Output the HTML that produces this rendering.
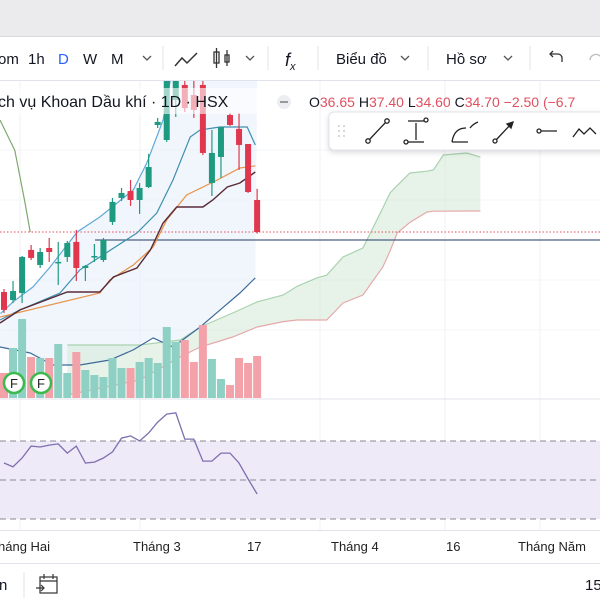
<!DOCTYPE html>
<html><head><meta charset="utf-8">
<style>
html,body{margin:0;padding:0;background:#fff;width:600px;height:600px;overflow:hidden;font-family:"Liberation Sans","Noto Sans CJK SC",sans-serif;}
svg text{font-family:"Liberation Sans","Noto Sans CJK SC",sans-serif;}
</style></head>
<body>
<svg id="chart" width="600" height="600" viewBox="0 0 600 600" xmlns="http://www.w3.org/2000/svg">
  <rect x="0" y="0" width="600" height="600" fill="#ffffff"/>
  <rect x="0" y="0" width="600" height="36" fill="#ebebed"/>
  <line x1="0" y1="36.5" x2="600" y2="36.5" stroke="#d8d8dc"/>
  <g id="grid"></g>
  <g id="main"></g>
  <g id="vol"></g>
  <g id="rsi"></g>

  <!-- toolbar -->
  <g font-size="15" fill="#131722">
    <rect x="0" y="37" width="600" height="43" fill="#fff"/>
    <text x="-2" y="64">om</text>
    <text x="28" y="64">1h</text>
    <text x="58" y="64" fill="#2962ff">D</text>
    <text x="83" y="64">W</text>
    <text x="111" y="64">M</text>
    <path d="M143 56 l4 4 l4 -4" fill="none" stroke="#555" stroke-width="1.3"/>
    <line x1="163" y1="46" x2="163" y2="70" stroke="#e0e3eb"/>
    <path d="M175 66 l7 -8 l5 5 l10 -10" fill="none" stroke="#333" stroke-width="1.5"/>
    <g fill="none" stroke="#333" stroke-width="1.3">
      <rect x="214" y="52" width="5" height="11"/><line x1="216.5" y1="48" x2="216.5" y2="68"/>
      <rect x="225" y="55" width="4" height="7"/><line x1="227" y1="50" x2="227" y2="66"/>
    </g>
    <path d="M246 56 l4 4 l4 -4" fill="none" stroke="#555" stroke-width="1.3"/>
    <line x1="268" y1="46" x2="268" y2="70" stroke="#e0e3eb"/>
    <text x="285" y="66" font-style="italic" font-size="18">f<tspan font-size="11" dy="4">x</tspan></text>
    <line x1="318" y1="46" x2="318" y2="70" stroke="#e0e3eb"/>
    <text x="336" y="64">Biểu đồ</text>
    <path d="M401 56 l4 4 l4 -4" fill="none" stroke="#555" stroke-width="1.3"/>
    <line x1="428" y1="46" x2="428" y2="70" stroke="#e0e3eb"/>
    <text x="446" y="64">Hồ sơ</text>
    <path d="M504 56 l4 4 l4 -4" fill="none" stroke="#555" stroke-width="1.3"/>
    <line x1="530" y1="46" x2="530" y2="70" stroke="#e0e3eb"/>
    <path d="M562 62 v-4 a4 4 0 0 0 -4 -4 h-8 m3 -3 l-3 3 l3 3" fill="none" stroke="#333" stroke-width="1.3"/>
    <path d="M590 60 a6 6 0 0 1 10 -4" fill="none" stroke="#bbb" stroke-width="1.3"/>
    <line x1="0" y1="80.5" x2="600" y2="80.5" stroke="#e0e3eb"/>
  </g>

  <!-- legend -->
  <g>
    <rect x="0" y="88" width="262" height="26" fill="#fff" opacity="0.6"/>
    <text x="-2" y="107" font-size="16" fill="#131722">ch vụ Khoan Dầu khí · 1D · HSX</text>
    <circle cx="284" cy="102" r="7" fill="#eceef2"/><rect x="280" y="101" width="8" height="2" fill="#999"/>
    <text x="309" y="107" font-size="14" fill="#131722">O<tspan fill="#e0505f">36.65</tspan> H<tspan fill="#e0505f">37.40</tspan> L<tspan fill="#e0505f">34.60</tspan> C<tspan fill="#e0505f">34.70</tspan> <tspan fill="#e0505f">−2.50 (−6.7</tspan></text>
  </g>

  <!-- drawing toolbar -->
  <g>
    <rect x="329" y="112" width="290" height="38" rx="5" fill="#fff" stroke="#e0e3eb" style="filter:drop-shadow(0 2px 3px rgba(0,0,0,0.15))"/>
    <g fill="#ccc"><circle cx="339" cy="126" r="1"/><circle cx="344" cy="126" r="1"/><circle cx="339" cy="131" r="1"/><circle cx="344" cy="131" r="1"/><circle cx="339" cy="136" r="1"/><circle cx="344" cy="136" r="1"/></g>
    <g fill="none" stroke="#222" stroke-width="1.3">
      <g><line x1="369" y1="140" x2="386" y2="122"/><circle cx="368" cy="141" r="2.2" fill="#fff"/><circle cx="387" cy="121" r="2.2" fill="#fff"/></g>
      <g><line x1="408" y1="121" x2="424" y2="121"/><line x1="408" y1="142" x2="424" y2="142"/><line x1="416" y1="123" x2="416" y2="140"/><circle cx="426" cy="120" r="2" fill="#fff"/><circle cx="406" cy="142" r="2" fill="#fff"/></g>
      <path d="M452 142 q2 -14 14 -14 M452 142 h16 M470 128 q3 -4 8 -6"/>
      <g><line x1="496" y1="140" x2="512" y2="123"/><circle cx="495" cy="141" r="2" fill="#fff"/><path d="M507 124 l6 -2 l-2 6 z" fill="#222"/></g>
      <g><line x1="540" y1="131" x2="557" y2="131"/><circle cx="539" cy="131" r="2" fill="#fff"/></g>
      <path d="M573 137 l6 -8 l5 5 l6 -6 l6 6"/>
    </g>
  </g>

  <!-- time axis -->
  <g font-size="13" fill="#222">
    <line x1="0" y1="530.5" x2="600" y2="530.5" stroke="#e0e3eb"/>
    <text x="-2" y="551">háng Hai</text>
    <text x="133" y="551">Tháng 3</text>
    <text x="247" y="551">17</text>
    <text x="331" y="551">Tháng 4</text>
    <text x="446" y="551">16</text>
    <text x="518" y="551">Tháng Năm</text>
    <line x1="0" y1="563.5" x2="600" y2="563.5" stroke="#e0e3eb"/>
  </g>
  <g>
    <text x="-1" y="590" font-size="15" fill="#131722">n</text>
    <line x1="24" y1="572" x2="24" y2="598" stroke="#e0e3eb"/>
    <g fill="none" stroke="#333" stroke-width="1.2">
      <rect x="40" y="577" width="17" height="16"/><line x1="40" y1="581" x2="57" y2="581"/><line x1="44" y1="574" x2="44" y2="579"/><line x1="53" y1="574" x2="53" y2="579"/><path d="M36 588 h8 m-3 -3 l3 3 l-3 3"/>
    </g>
    <text x="585" y="590" font-size="15" fill="#131722">15</text>
  </g>
</svg>
<script>
// ---- data ----
const opens  = [30.95,30.45,30.89,33.58,32.64,33.70,32.76,33.14,34.08,32.45,33.14,32.95,35.33,36.83,37.26,36.70,37.51,41.39,40.45,42.95,43.89,43.26,43.89,37.76,39.39,42.01,41.14,40.20,36.70];
const highs  = [31.14,31.64,33.20,33.89,33.70,34.33,34.08,34.14,34.83,32.64,33.95,34.33,36.83,37.45,37.95,37.76,39.58,41.83,44.83,45.45,44.33,44.33,44.20,41.08,41.26,42.14,42.14,40.20,37.40];
const lows   = [29.64,30.26,30.26,32.95,32.45,32.83,31.39,32.83,31.64,31.64,32.83,32.83,35.14,36.64,36.33,35.83,37.45,41.20,40.33,41.89,42.20,41.83,39.51,36.95,38.08,41.33,38.58,37.14,34.60];
const closes = [29.83,31.01,33.14,33.08,33.45,33.45,32.83,34.01,32.45,32.58,33.20,34.20,36.58,37.14,36.70,37.45,38.76,41.58,44.33,44.83,42.45,42.33,39.64,39.64,41.26,41.39,40.14,37.20,34.70];
const volumes = [25,50,79,41,40,40,54,25,46,28,23,21,40,30,30,36,40,35,71,56,58,36,73,39,19,13,40,35,42];
const rsiValues = [58.7,56.7,61.3,67.4,66.9,67.9,68.5,63.8,67.4,58.7,59.2,61.3,64.4,71.5,72.6,70.0,74.1,79.7,83.8,84.4,71.0,71.0,59.7,59.7,63.8,63.8,58.7,50.5,42.8];
const rsiLevels = [70,50,30];
const lastClose = 34.70;
const refPrice = 34.20;
// indicator lines: index positions + prices
const upperIdx = [-0.4,1.0,3.2,5.1,8.1,10.6,14.3,15.8,17.6,18.4,19.5];
const upperVal = [29.6,30.33,31.26,32.51,34.70,35.64,37.33,39.01,41.70,44.20,46.70];
const midIdx = [-0.44,1.77,6.2,8.4,10.6,14.7,16.9,18.7,20.6,21.7,23.9,26.9,27.8];
const midVal = [29.20,29.83,30.89,32.33,33.14,34.64,35.89,37.95,40.64,41.08,41.26,41.26,40.14];
const orangeIdx = [-0.44,10.6,11.7,14.3,16.5,18.0,20.2,23.6,26.1,27.8];
const orangeVal = [29.39,30.89,31.70,32.64,33.76,35.45,37.01,37.95,38.70,38.83];
const maroonIdx = [-0.44,1.77,7.0,10.6,12.1,14.7,16.2,17.6,19.1,22.0,23.1,24.7,26.1,27.8];
const maroonVal = [29.01,29.83,30.95,30.95,31.89,32.45,33.58,35.26,36.26,36.26,36.70,37.51,37.76,38.45];
const lowerIdx = [-0.44,2.9,5.4,8.4,11.7,14.3,16.5,18.7,21.7,23.9,26.1,27.8];
const lowerVal = [27.51,27.14,26.39,26.39,26.70,27.33,28.08,27.51,28.76,29.83,30.89,31.83];
const lagIdx = [-0.44,1.2,2.3,2.9];
const lagVal = [41.70,39.80,36.60,34.70];
const cloudIdx = [7,15,19.5,21.7,25.3,28,30.9,32.4,34.6,35.7,37.5,39.7,41.9,42.7,43.5,44.9,46.8,47.5,48.6,51.2,52.7];
const spanA = [27.64,27.64,27.95,28.76,29.64,30.33,30.76,31.30,31.83,32.00,33.14,33.70,36.20,37.14,37.60,38.39,38.50,38.58,39.51,39.64,39.39];
const spanB = [24.51,25.45,26.90,27.51,28.14,28.76,29.10,29.20,29.20,29.20,30.26,30.76,32.51,33.50,34.64,35.30,35.95,36.00,36.00,36.01,36.01];

// ---- scales ----
const X = i => 4 + i * 9.04;
const Y = p => 232 - (p - 34.7) * 16;
const VY = v => 398 - v;
const RY = v => 480 - (v - 50) * 1.95;
const NS = 'http://www.w3.org/2000/svg';
function mk(tag, attrs, parent){ const e=document.createElementNS(NS,tag); for(const k in attrs) e.setAttribute(k,attrs[k]); parent.appendChild(e); return e; }
const pts = (idx, val, f) => idx.map((v,k)=>X(v).toFixed(1)+','+f(val[k]).toFixed(1)).join(' ');

const grid = document.getElementById('grid');
[20,140,320,445,540].forEach(x=>{ const l=mk('line',{x1:x,y1:81,x2:x,y2:530,stroke:'#f0f2f5'},grid);   });
[150,200,280,330].forEach(y=>{ const l=mk('line',{x1:0,y1:y,x2:600,y2:y,stroke:'#f3f4f7'},grid);   });

const main = document.getElementById('main');
const defs = mk('defs',{},main);
const cp = mk('clipPath',{id:'mc'},defs); mk('rect',{x:0,y:81,width:600,height:317},cp);
const g = mk('g',{'clip-path':'url(#mc)'},main);

// bollinger fill
const bandFill = mk('polygon',{points: pts(upperIdx,upperVal,Y)+' '+X(19.5)+',81 '+X(28)+',81 '+pts(lowerIdx.slice().reverse(),lowerVal.slice().reverse(),Y), fill:'#e3eef9', opacity:'0.55'},g);



// cloud
const cloud = mk('polygon',{points: pts(cloudIdx,spanA,Y)+' '+pts(cloudIdx.slice().reverse(),spanB.slice().reverse(),Y), fill:'#cfe8d2', opacity:'0.5'},g);


const sa = mk('polyline',{points:pts(cloudIdx,spanA,Y),fill:'none',stroke:'#a9d3b0','stroke-width':1.2},g);


const sb = mk('polyline',{points:pts(cloudIdx,spanB,Y),fill:'none',stroke:'#e6a9a9','stroke-width':1.2},g);



// price lines
const dl = mk('line',{x1:0,y1:Y(lastClose),x2:600,y2:Y(lastClose),stroke:'#e0505f','stroke-dasharray':'1.5 2','stroke-width':1},g);


const hl = mk('line',{x1:95,y1:Y(refPrice),x2:600,y2:Y(refPrice),stroke:'#4a5f80','stroke-width':1.3},g);



function line(idx,val,color,name,w){ const p=mk('polyline',{points:pts(idx,val,Y),fill:'none',stroke:color,'stroke-width':w||1.2},g);   }
line(lagIdx,lagVal,'#7fa86f','lagging-span');
line(upperIdx,upperVal,'#62a8d8','bollinger-upper');
line(midIdx,midVal,'#3f8fb0','bollinger-middle');
line(lowerIdx,lowerVal,'#3e6a9a','bollinger-lower');
line(orangeIdx,orangeVal,'#e8944a','moving-average-orange');
line(maroonIdx,maroonVal,'#5a2a36','moving-average-dark',1.4);

// candles
for(let i=0;i<opens.length;i++){
  const up = closes[i] >= opens[i];
  const c = up ? '#1e9a80' : '#e0374f';
  const cg = mk('g',{},g);
  
  
  mk('line',{x1:X(i),y1:Y(highs[i]),x2:X(i),y2:Y(lows[i]),stroke:c,'stroke-width':1.2},cg);
  const top = Y(Math.max(opens[i],closes[i])), bot = Y(Math.min(opens[i],closes[i]));
  mk('rect',{x:X(i)-3,y:top,width:6,height:Math.max(1.5,bot-top),fill:c},cg);
}

// volume
const vol = document.getElementById('vol');
for(let i=0;i<volumes.length;i++){
  const up = closes[i] >= opens[i];
  const r = mk('rect',{x:X(i)-4,y:VY(volumes[i]),width:8,height:volumes[i],fill: up ? '#8fd0c4' : '#f3a2aa'},vol);
  
  
}
[14,41].forEach(cx=>{
  const fg = mk('g',{},vol);
  
  
  mk('circle',{cx:cx,cy:383,r:10,fill:'#fff',stroke:'#3dba4e','stroke-width':2.5},fg);
  const t = mk('text',{x:cx,y:388,'font-size':13,'text-anchor':'middle',fill:'#222'},fg); t.textContent='F';
});
mk('line',{x1:0,y1:399,x2:600,y2:399,stroke:'#e0e3eb'},vol);

// rsi
const rsi = document.getElementById('rsi');
const band = mk('rect',{x:0,y:RY(rsiLevels[0]),width:600,height:RY(rsiLevels[2])-RY(rsiLevels[0]),fill:'#efeaf8'},rsi);


rsiLevels.forEach(v=>{ const l=mk('line',{x1:0,y1:RY(v),x2:600,y2:RY(v),stroke:'#8a8a94','stroke-dasharray':'6 4','stroke-width':1},rsi);   });
const rl = mk('polyline',{points: rsiValues.map((v,i)=>X(i).toFixed(1)+','+RY(v).toFixed(1)).join(' '),fill:'none',stroke:'#7e6fb0','stroke-width':1.3},rsi);


</script>
</body></html>
